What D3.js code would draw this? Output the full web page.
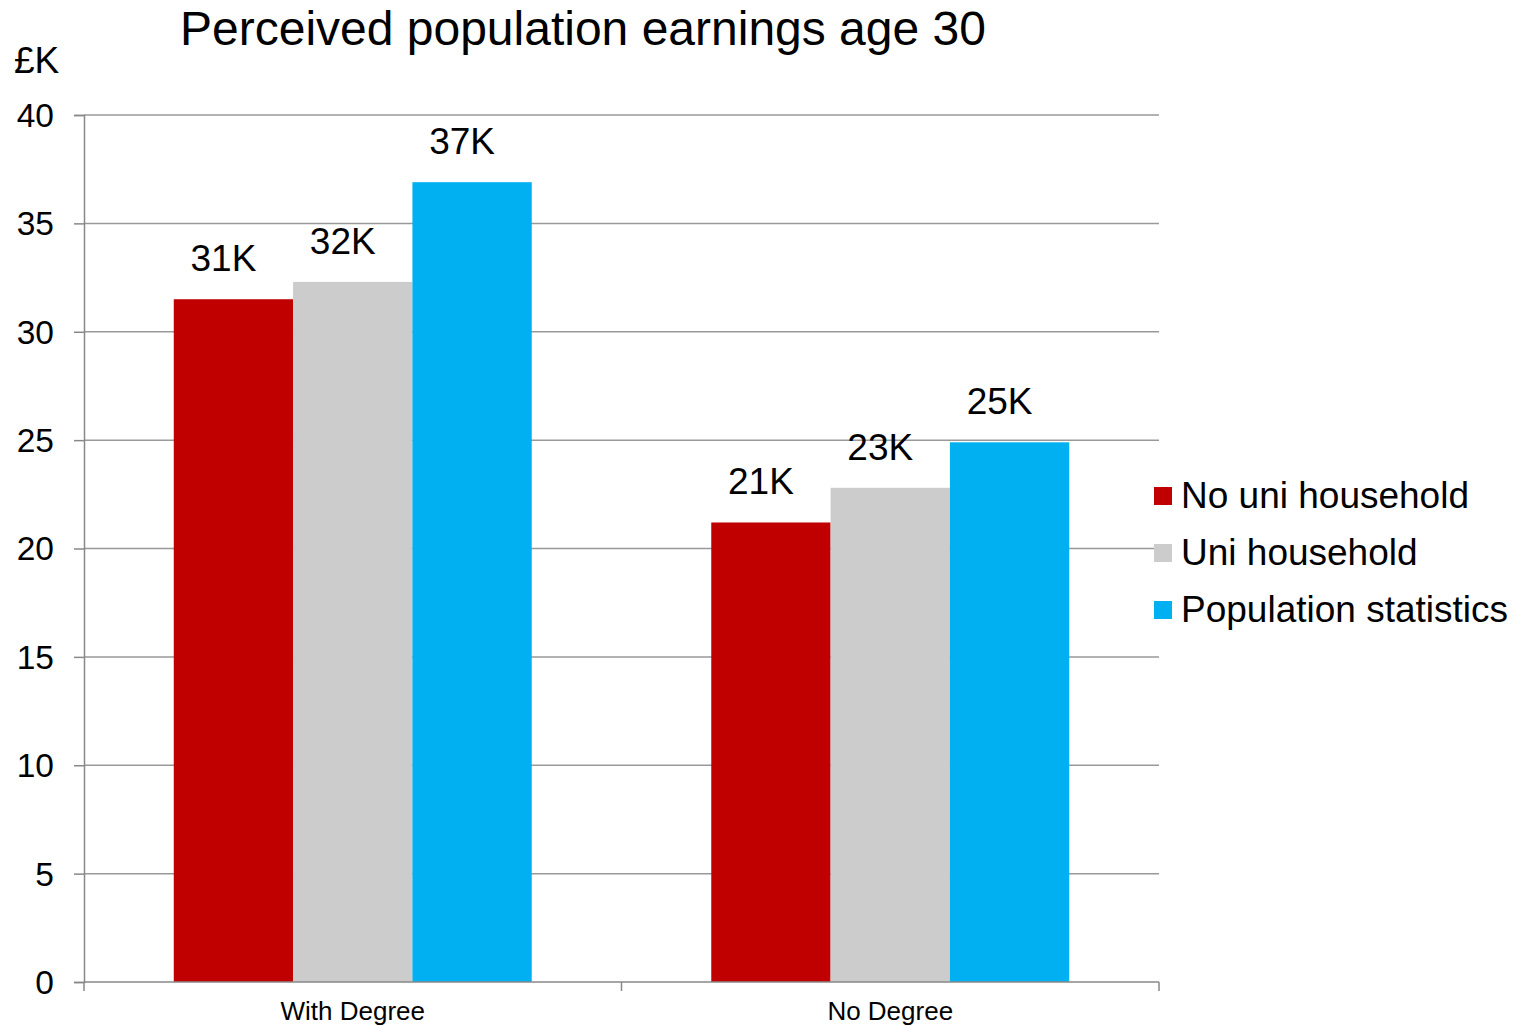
<!DOCTYPE html>
<html>
<head>
<meta charset="utf-8">
<script src="https://d3js.org/d3.v7.min.js"></script>
<style>
  body { margin: 0; background: #fff; }
  svg { display: block; font-family: "Liberation Sans", Arial, sans-serif; }
</style>
</head>
<body>
<script>
// data
const CATEGORIES = ["With Degree", "No Degree"];
const SERIES = ["No uni household", "Uni household", "Population statistics"];
const COLORS = ["#C00000", "#CCCCCC", "#00B0F0"];
const VALUES = [
  [31.5, 21.2],   // No uni household
  [32.3, 22.8],   // Uni household
  [36.9, 24.9]    // Population statistics
];
const LABELS = [
  ["31K", "21K"],
  ["32K", "23K"],
  ["37K", "25K"]
];
const Y_TICKS = [0, 5, 10, 15, 20, 25, 30, 35, 40];

const WIDTH = 1527, HEIGHT = 1027;
const LEFT = 84, RIGHT = 1159, TOP = 115, BOTTOM = 982;

const svg = d3.select("body").append("svg")
  .attr("width", WIDTH).attr("height", HEIGHT);

const y = d3.scaleLinear().domain([0, 40]).range([BOTTOM, TOP]);
const x0 = d3.scaleBand().domain(CATEGORIES).range([LEFT, RIGHT])
  .paddingInner(0.334).paddingOuter(0.167);
const x1 = d3.scaleBand().domain(SERIES).range([0, x0.bandwidth()]);

// gridlines
svg.append("g")
  .selectAll("line")
  .data(Y_TICKS.filter(d => d > 0))
  .join("line")
  .attr("x1", LEFT).attr("x2", RIGHT)
  .attr("y1", d => y(d)).attr("y2", d => y(d))
  .attr("stroke", "#999").attr("stroke-width", 1.5);

// y axis
const yAxis = svg.append("g")
  .attr("transform", `translate(${LEFT},0)`)
  .call(d3.axisLeft(y).tickValues(Y_TICKS).tickSize(10).tickPadding(20));
yAxis.select(".domain").attr("stroke", "#888").attr("stroke-width", 1.5);
yAxis.selectAll(".tick line").attr("stroke", "#888").attr("stroke-width", 1.5);
yAxis.selectAll(".tick text")
  .attr("font-size", 33.5).attr("fill", "#000")
  .attr("font-family", "Liberation Sans, Arial, sans-serif")
  .attr("dy", "0.34em");

// bars
const rows = (c, ci) => SERIES.map((s, si) => ({ s, si, v: VALUES[si][ci], label: LABELS[si][ci] }));
const groups = svg.append("g")
  .selectAll("g")
  .data(CATEGORIES)
  .join("g")
  .attr("transform", d => `translate(${x0(d)},0)`);

groups.selectAll("rect")
  .data(rows)
  .join("rect")
  .attr("x", d => x1(d.s))
  .attr("width", x1.bandwidth())
  .attr("y", d => y(d.v))
  .attr("height", d => y(0) - y(d.v))
  .attr("fill", d => COLORS[d.si]);

groups.selectAll("text")
  .data(rows)
  .join("text")
  .attr("x", d => x1(d.s) + x1.bandwidth() / 2 - 10)
  .attr("y", d => y(d.v) - 28)
  .attr("text-anchor", "middle")
  .attr("font-size", 37)
  .text(d => d.label);

// x axis
const xAxis = svg.append("g");
xAxis.append("line")
  .attr("x1", LEFT).attr("x2", RIGHT)
  .attr("y1", BOTTOM).attr("y2", BOTTOM)
  .attr("stroke", "#888").attr("stroke-width", 1.5);
xAxis.selectAll("line.tick")
  .data([LEFT, (LEFT + RIGHT) / 2, RIGHT])
  .join("line")
  .attr("class", "tick")
  .attr("x1", d => d).attr("x2", d => d)
  .attr("y1", BOTTOM).attr("y2", BOTTOM + 9)
  .attr("stroke", "#888").attr("stroke-width", 1.5);
xAxis.selectAll("text")
  .data(CATEGORIES)
  .join("text")
  .attr("x", d => x0(d) + x0.bandwidth() / 2)
  .attr("y", 1020)
  .attr("text-anchor", "middle")
  .attr("font-size", 26)
  .text(d => d);

// title and unit
svg.append("text")
  .attr("x", 180).attr("y", 45)
  .attr("font-size", 48)
  .text("Perceived population earnings age 30");
svg.append("text")
  .attr("x", 14).attr("y", 73)
  .attr("font-size", 37)
  .text("£K");

// legend
const legend = svg.append("g")
  .selectAll("g")
  .data(SERIES)
  .join("g")
  .attr("transform", (d, i) => `translate(1154,${508 + i * 57})`);
legend.append("rect")
  .attr("x", 0).attr("y", -21)
  .attr("width", 18).attr("height", 18)
  .attr("fill", (d, i) => COLORS[i]);
legend.append("text")
  .attr("x", 27).attr("y", 0)
  .attr("font-size", 37)
  .text(d => d);
</script>
</body>
</html>
